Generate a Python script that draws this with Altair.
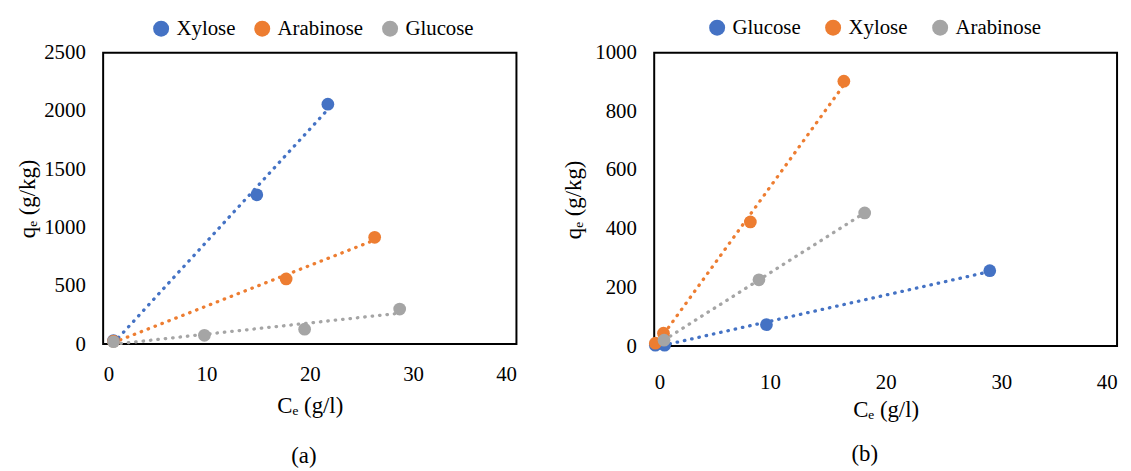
import altair as alt
import pandas as pd

# ---------- data ----------
# Panel (a)
a_series = ["Xylose", "Arabinose", "Glucose"]
a_xylose_ce = [1.0, 14.87, 21.75]
a_xylose_qe = [30, 1281, 2058]
a_arabinose_ce = [1.0, 17.71, 26.28]
a_arabinose_qe = [25, 559, 916]
a_glucose_ce = [1.0, 9.8, 19.5, 28.7]
a_glucose_qe = [20, 75, 128, 300]

# Panel (b)
b_series = ["Glucose", "Xylose", "Arabinose"]
b_glucose_ce = [0.1, 0.9, 9.7, 29.0]
b_glucose_qe = [3, 3, 73, 257]
b_xylose_ce = [0.1, 0.8, 8.31, 16.39]
b_xylose_qe = [10, 44, 423, 903]
b_arabinose_ce = [0.85, 9.05, 18.19]
b_arabinose_qe = [20, 226, 454]

colors = ["#4472C4", "#ED7D31", "#A5A5A5"]
x_ticks = [0, 10, 20, 30, 40]
a_y_ticks = [0, 500, 1000, 1500, 2000, 2500]
b_y_ticks = [0, 200, 400, 600, 800, 1000]

FONT = "Liberation Serif"


def table(pairs):
    rows = []
    for name, ce, qe in pairs:
        for c, q in zip(ce, qe):
            rows.append({"series": name, "ce": c, "qe": q})
    return pd.DataFrame(rows)


df_a = table([
    ("Xylose", a_xylose_ce, a_xylose_qe),
    ("Arabinose", a_arabinose_ce, a_arabinose_qe),
    ("Glucose", a_glucose_ce, a_glucose_qe),
])
df_b = table([
    ("Glucose", b_glucose_ce, b_glucose_qe),
    ("Xylose", b_xylose_ce, b_xylose_qe),
    ("Arabinose", b_arabinose_ce, b_arabinose_qe),
])


def panel(df, order, yticks, ymax, width, height, xlabpad, xtitlepad, ytitlepad,
          legx, legy, colpad, title, title_dx, title_off):
    color = alt.Color(
        "series:N",
        scale=alt.Scale(domain=order, range=colors),
        sort=order,
        legend=alt.Legend(
            title=None, orient="none", direction="horizontal",
            legendX=legx, legendY=legy, symbolType="circle", symbolSize=260,
            symbolStrokeWidth=0, labelFont=FONT, labelFontSize=21, labelColor="#000000",
            labelOffset=5, columnPadding=colpad, labelLimit=200,
        ),
    )
    x = alt.X(
        "ce:Q",
        scale=alt.Scale(domain=[0, 40], nice=False),
        axis=alt.Axis(values=x_ticks, format="d", title="Cₑ (g/l)", labelPadding=xlabpad,
                      titlePadding=xtitlepad, labelFont=FONT, titleFont=FONT),
    )
    y = alt.Y(
        "qe:Q",
        scale=alt.Scale(domain=[0, ymax], nice=False),
        axis=alt.Axis(values=yticks, format="d", title="qₑ (g/kg)", labelPadding=18,
                      titlePadding=ytitlepad, labelFont=FONT, titleFont=FONT),
    )
    base = alt.Chart(df)
    lines = base.transform_regression(
        "ce", "qe", groupby=["series"], method="linear"
    ).mark_line(strokeDash=[0.5, 7], strokeCap="round", strokeWidth=3.3).encode(
        x=x, y=y, color=color
    )
    points = base.mark_circle(size=165, opacity=1).encode(x=x, y=y, color=color)
    return alt.layer(lines, points).properties(
        width=width, height=height,
        title=alt.TitleParams(title, orient="bottom", anchor="middle", fontSize=23,
                              font=FONT, fontWeight="normal", color="#000000",
                              dx=title_dx, offset=title_off),
    )


pa = panel(df_a, a_series, a_y_ticks, 2500, 417, 294, 20, 10, 4, 48, -35, 16, "(a)", -6, 28)
pb = panel(df_b, b_series, b_y_ticks, 1000, 467, 296, 26, 6, 9, 53, -36, 22, "(b)", -21, 22)

chart = alt.hconcat(pa, pb, spacing=45).resolve_scale(color="independent").properties(
    padding={"left": 8, "top": 6, "right": 5, "bottom": 5},
    background="#ffffff",
).configure(
    font=FONT
).configure_view(
    stroke="#000000", strokeWidth=2
).configure_axis(
    domain=False, grid=False, ticks=False, labelFont=FONT, labelFontSize=21,
    labelColor="#000000", titleFont=FONT, titleFontSize=23, titleFontWeight="normal",
    titleColor="#000000",
).configure_legend(
    labelFont=FONT
).configure_title(
    font=FONT
)

chart.save("out.html", embed_options={"renderer": "svg", "actions": False})
